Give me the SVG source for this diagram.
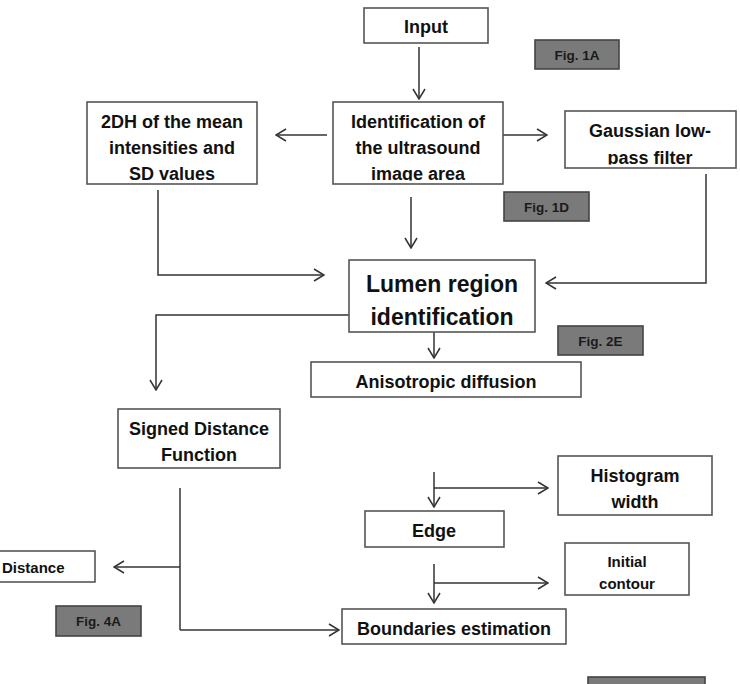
<svg xmlns="http://www.w3.org/2000/svg" width="740" height="684" viewBox="0 0 740 684">
<style>
.box{fill:#fff;stroke:#555;stroke-width:1.6}
.fig{fill:#7a7a7a;stroke:#444;stroke-width:1.6}
.t{font-family:"Liberation Sans",Arial,sans-serif;font-weight:bold;font-size:18px;fill:#111;text-anchor:middle}
.big{font-size:23px}
.sm{font-size:15px}
.ft{font-family:"Liberation Sans",Arial,sans-serif;font-weight:bold;font-size:13.5px;fill:#1a1a1a;text-anchor:middle}
.c{fill:none;stroke:#333;stroke-width:1.5}
</style>
<defs>
<marker id="ah" markerUnits="userSpaceOnUse" viewBox="0 0 12 14" refX="11" refY="7" markerWidth="12" markerHeight="14" orient="auto">
<path d="M1,1 L11,7 L1,13" fill="none" stroke="#333" stroke-width="1.5"/>
</marker>
<clipPath id="clip2dh"><rect x="87" y="102" width="170" height="78.5"/></clipPath>
<clipPath id="clipid"><rect x="333" y="102" width="170" height="78.5"/></clipPath>
<clipPath id="clipg"><rect x="565" y="111" width="171" height="53.5"/></clipPath>
</defs>

<g id="connectors">
<line class="c" x1="419" y1="47" x2="419" y2="99" marker-end="url(#ah)"/>
<line class="c" x1="327" y1="135" x2="276" y2="135" marker-end="url(#ah)"/>
<line class="c" x1="503" y1="135" x2="547" y2="135" marker-end="url(#ah)"/>
<line class="c" x1="411" y1="197" x2="411" y2="248" marker-end="url(#ah)"/>
<polyline class="c" points="158,190 158,275 324,275" marker-end="url(#ah)"/>
<polyline class="c" points="706,174 706,283 546,283" marker-end="url(#ah)"/>
<polyline class="c" points="349,315 156,315 156,390" marker-end="url(#ah)"/>
<line class="c" x1="434" y1="332" x2="434" y2="358" marker-end="url(#ah)"/>
<line class="c" x1="180" y1="488" x2="180" y2="630"/>
<line class="c" x1="180" y1="567" x2="114" y2="567" marker-end="url(#ah)"/>
<line class="c" x1="180" y1="630" x2="339" y2="630" marker-end="url(#ah)"/>
<line class="c" x1="434" y1="472" x2="434" y2="507" marker-end="url(#ah)"/>
<line class="c" x1="434" y1="488" x2="548" y2="488" marker-end="url(#ah)"/>
<line class="c" x1="434" y1="564" x2="434" y2="603" marker-end="url(#ah)"/>
<line class="c" x1="434" y1="583" x2="548" y2="583" marker-end="url(#ah)"/>
</g>

<g id="input">
<rect class="box" x="364" y="8" width="124" height="35"/>
<text class="t" x="426" y="33">Input</text>
</g>

<g id="fig1a">
<rect class="fig" x="535" y="40" width="84" height="29"/>
<text class="ft" x="577" y="59.5">Fig. 1A</text>
</g>

<g id="hist2dh">
<rect class="box" x="87" y="102" width="170" height="82"/>
<g clip-path="url(#clip2dh)">
<text class="t" x="172" y="128">2DH of the mean</text>
<text class="t" x="172" y="154">intensities and</text>
<text class="t" x="172" y="179.5">SD values</text>
</g>
</g>

<g id="identification">
<rect class="box" x="333" y="102" width="170" height="82"/>
<g clip-path="url(#clipid)">
<text class="t" x="418" y="128">Identification of</text>
<text class="t" x="418" y="154">the ultrasound</text>
<text class="t" x="418" y="179.5">image area</text>
</g>
</g>

<g id="gaussian">
<rect class="box" x="565" y="111" width="171" height="57"/>
<g clip-path="url(#clipg)">
<text class="t" x="650" y="137">Gaussian low-</text>
<text class="t" x="650" y="163.5">pass filter</text>
</g>
</g>

<g id="fig1d">
<rect class="fig" x="504" y="192" width="85" height="29"/>
<text class="ft" x="546.5" y="211.5">Fig. 1D</text>
</g>

<g id="lumen">
<rect class="box" x="349" y="260" width="186" height="72"/>
<text class="t big" x="442" y="292">Lumen region</text>
<text class="t big" x="442" y="325">identification</text>
</g>

<g id="fig2e">
<rect class="fig" x="558" y="326" width="85" height="29"/>
<text class="ft" x="600.5" y="345.5">Fig. 2E</text>
</g>

<g id="anisotropic">
<rect class="box" x="311" y="362" width="270" height="35"/>
<text class="t" x="446" y="388">Anisotropic diffusion</text>
</g>

<g id="sdf">
<rect class="box" x="118" y="409" width="162" height="59"/>
<text class="t" x="199" y="435">Signed Distance</text>
<text class="t" x="199" y="461">Function</text>
</g>

<g id="histogram">
<rect class="box" x="558" y="456" width="154" height="59"/>
<text class="t" x="635" y="482">Histogram</text>
<text class="t" x="635" y="508">width</text>
</g>

<g id="edge">
<rect class="box" x="365" y="511" width="139" height="36"/>
<text class="t" x="434" y="537">Edge</text>
</g>

<g id="initial">
<rect class="box" x="565" y="543" width="124" height="52"/>
<text class="t sm" x="627" y="567">Initial</text>
<text class="t sm" x="627" y="589">contour</text>
</g>

<g id="distance">
<rect class="box" x="-5" y="551" width="100" height="31"/>
<text class="t sm" x="2" y="573" style="text-anchor:start">Distance</text>
</g>

<g id="fig4a">
<rect class="fig" x="56" y="606" width="85" height="30"/>
<text class="ft" x="98.5" y="626">Fig. 4A</text>
</g>

<g id="boundaries">
<rect class="box" x="342" y="609" width="224" height="35"/>
<text class="t" x="454" y="635">Boundaries estimation</text>
</g>

<g id="figbottom">
<rect class="fig" x="588" y="677" width="117" height="20"/>
</g>
</svg>
